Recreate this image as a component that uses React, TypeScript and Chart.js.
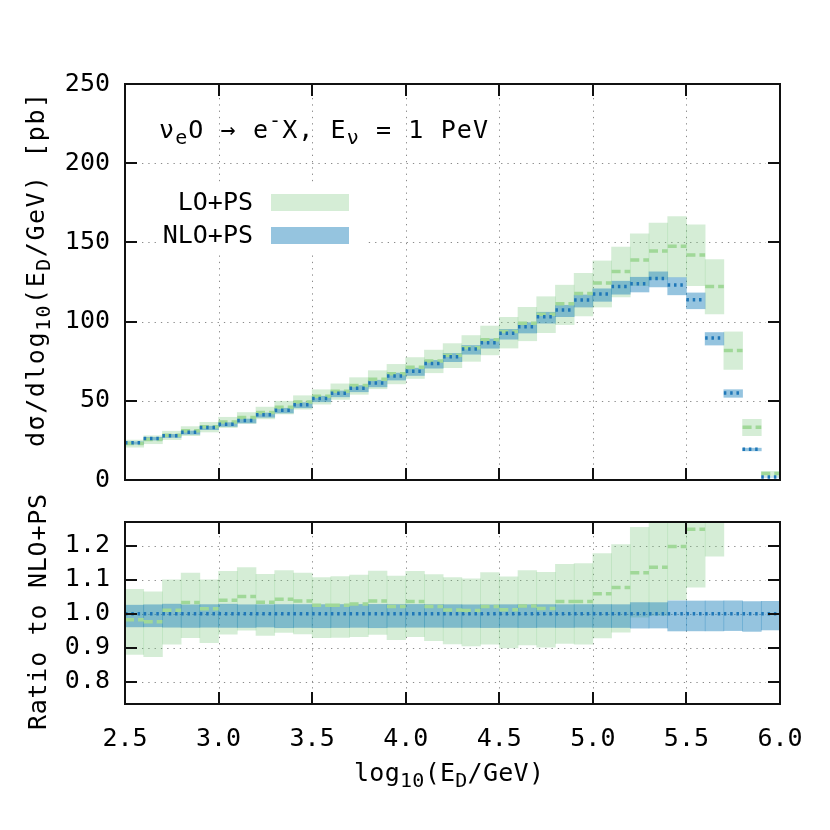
import React, { useEffect, useRef } from "react";
import { Chart, registerables } from "chart.js";

Chart.register(...registerables);

const FONT = '"DejaVu Sans Mono", monospace';
const FS = 25;

// bin edges in log10(E_D/GeV)
const binEdges = [2.5, 2.6, 2.7, 2.8, 2.9, 3.0, 3.1, 3.2, 3.3, 3.4, 3.5, 3.6, 3.7, 3.8, 3.9, 4.0, 4.1, 4.2, 4.3, 4.4, 4.5, 4.6, 4.7, 4.8, 4.9, 5.0, 5.1, 5.2, 5.3, 5.4, 5.5, 5.6, 5.7, 5.8, 5.9, 6.0];

// NLO+PS (pb)
const nloCentral = [23.5, 26.2, 28.0, 30.1, 33.1, 35.2, 37.5, 41.2, 44.1, 47.5, 51.5, 54.7, 58.0, 61.3, 65.7, 68.7, 73.5, 77.8, 82.7, 86.7, 92.6, 96.7, 103.1, 107.4, 113.7, 117.5, 122.2, 123.9, 127.2, 123.1, 113.8, 89.7, 54.9, 19.4, 1.9];
const nloUp = [24.1, 26.9, 28.8, 30.9, 34.0, 36.2, 38.5, 42.3, 45.3, 48.8, 52.9, 56.2, 59.6, 63.0, 67.5, 70.6, 75.5, 79.9, 84.9, 89.0, 95.1, 99.3, 105.9, 110.3, 116.8, 120.7, 125.5, 128.0, 131.4, 127.8, 118.1, 93.1, 57.0, 20.1, 1.97];
const nloDown = [22.6, 25.2, 26.9, 28.9, 31.8, 33.8, 36.0, 39.6, 42.3, 45.6, 49.4, 52.5, 55.7, 58.8, 63.1, 66.0, 70.6, 74.7, 79.4, 83.2, 88.9, 92.8, 99.0, 103.1, 109.2, 112.8, 117.3, 118.7, 121.9, 116.9, 108.1, 85.2, 52.2, 18.4, 1.81];

// LO+PS (pb)
const loCentral = [23.1, 25.6, 28.3, 31.1, 33.6, 36.6, 39.4, 42.6, 46.0, 49.3, 52.8, 56.1, 59.7, 63.6, 67.1, 71.2, 75.1, 78.7, 83.5, 88.6, 93.7, 98.9, 104.7, 111.3, 117.8, 124.4, 131.7, 138.9, 144.6, 147.5, 142.1, 122.2, 81.7, 33.3, 4.1];
const loUp = [25.2, 27.9, 30.8, 33.7, 36.4, 39.6, 42.6, 46.0, 49.7, 53.2, 57.0, 60.7, 64.6, 69.0, 73.0, 77.3, 82.0, 86.1, 91.2, 97.2, 102.7, 109.0, 115.7, 123.0, 130.5, 138.3, 147.1, 155.4, 162.2, 166.3, 161.1, 139.1, 93.5, 38.3, 5.4];
const loDown = [20.7, 22.9, 25.5, 28.0, 30.3, 33.1, 35.7, 38.6, 41.7, 44.7, 47.9, 50.9, 54.1, 57.6, 60.7, 64.1, 67.7, 70.9, 74.9, 79.0, 83.3, 87.9, 93.0, 98.1, 103.6, 109.2, 115.6, 122.7, 126.6, 128.1, 122.7, 104.9, 69.8, 28.0, 2.6];

const xTickValues = [2.5, 3.0, 3.5, 4.0, 4.5, 5.0, 5.5, 6.0];
const xTickLabels = ["2.5", "3.0", "3.5", "4.0", "4.5", "5.0", "5.5", "6.0"];
const topTickValues = [0, 50, 100, 150, 200, 250];
const topTickLabels = ["0", "50", "100", "150", "200", "250"];
const ratioTickValues = [0.8, 0.9, 1.0, 1.1, 1.2];
const ratioTickLabels = ["0.8", "0.9", "1.0", "1.1", "1.2"];

const LO_FILL = "rgba(116,196,118,0.3)";
const NLO_FILL = "rgba(30,129,186,0.47)";
const LO_LINE = "rgb(160,216,152)";
const NLO_LINE = "rgb(31,119,184)";

type Seg = { t: string; s?: "sub" | "sup" };

function drawRich(
  ctx: CanvasRenderingContext2D,
  segs: Seg[],
  x: number,
  y: number,
  size: number,
  align: "left" | "center" | "right",
  target?: number
) {
  const glyphs: { ch: string; font: string; dy: number; w: number }[] = [];
  for (const sg of segs) {
    const font = `${sg.s ? size * 0.8 : size}px ${FONT}`;
    const dy = sg.s === "sub" ? size * 0.22 : sg.s === "sup" ? -size * 0.45 : 0;
    ctx.font = font;
    for (const ch of Array.from(sg.t)) {
      glyphs.push({ ch, font, dy, w: ctx.measureText(ch).width });
    }
  }
  const natural = glyphs.reduce((a, g) => a + g.w, 0);
  const extra = target && glyphs.length > 1 ? (target - natural) / (glyphs.length - 1) : 0;
  const total = natural + extra * (glyphs.length - 1);
  let cx = align === "left" ? x : align === "center" ? x - total / 2 : x - total;
  ctx.textAlign = "left";
  ctx.textBaseline = "alphabetic";
  for (const g of glyphs) {
    ctx.font = g.font;
    ctx.fillText(g.ch, cx, y + g.dy);
    cx += g.w + extra;
  }
}

function bandData(lo: number[], hi: number[], norm?: number[]) {
  return lo.map((v, i) => ({
    x: (binEdges[i] + binEdges[i + 1]) / 2,
    y: [norm ? v / norm[i] : v, norm ? hi[i] / norm[i] : hi[i]],
  }));
}

function stepData(vals: number[], norm?: number[]) {
  const out: { x: number; y: number | null }[] = [];
  vals.forEach((v, i) => {
    const y = norm ? v / norm[i] : v;
    out.push({ x: binEdges[i], y }, { x: binEdges[i + 1], y }, { x: binEdges[i + 1], y: null });
  });
  return out;
}

function datasets(norm?: number[]) {
  return [
    { type: "bar", data: bandData(loDown, loUp, norm), backgroundColor: LO_FILL, borderWidth: 0, grouped: false, barPercentage: 1, categoryPercentage: 1, order: 4 },
    { type: "bar", data: bandData(nloDown, nloUp, norm), backgroundColor: NLO_FILL, borderWidth: 0, grouped: false, barPercentage: 1, categoryPercentage: 1, order: 3 },
    { type: "line", data: stepData(loCentral, norm), borderColor: LO_LINE, borderWidth: 3.5, borderDash: [9, 4], borderCapStyle: "butt", pointRadius: 0, spanGaps: false, fill: false, tension: 0, order: 2 },
    { type: "line", data: stepData(nloCentral, norm), borderColor: NLO_LINE, borderWidth: 3.5, borderDash: [2.5, 3.8], borderCapStyle: "butt", pointRadius: 0, spanGaps: false, fill: false, tension: 0, order: 1 },
  ];
}

function framePlugin(id: string, yGrid: number[], yTicks: number[], extra: (chart: any) => void, legendBox?: boolean) {
  const TL = 12;
  return {
    id,
    beforeDatasetsDraw(chart: any) {
      const { ctx, chartArea: a } = chart;
      const xs = chart.scales.x;
      const ys = chart.scales.y;
      ctx.save();
      ctx.strokeStyle = "#8a8a8a";
      ctx.lineWidth = 1;
      ctx.setLineDash([1.3, 5]);
      ctx.beginPath();
      for (const v of xTickValues.slice(1, -1)) {
        const px = Math.round(xs.getPixelForValue(v)) + 0.5;
        ctx.moveTo(px, a.top + TL + 2);
        ctx.lineTo(px, a.bottom - TL - 2);
      }
      for (const v of yGrid) {
        const py = Math.round(ys.getPixelForValue(v)) + 0.5;
        ctx.moveTo(a.left + TL + 5, py);
        ctx.lineTo(a.right - TL - 2, py);
      }
      ctx.stroke();
      if (legendBox) {
        ctx.fillStyle = "#ffffff";
        ctx.fillRect(156, 186, 210, 66);
      }
      ctx.restore();
    },
    afterDatasetsDraw(chart: any) {
      const { ctx, chartArea: a } = chart;
      const xs = chart.scales.x;
      const ys = chart.scales.y;
      ctx.save();
      ctx.setLineDash([]);
      ctx.strokeStyle = "#111111";
      ctx.lineWidth = 2;
      ctx.strokeRect(a.left, a.top, a.right - a.left, a.bottom - a.top);
      ctx.beginPath();
      for (const v of xTickValues.slice(1, -1)) {
        const px = Math.round(xs.getPixelForValue(v));
        ctx.moveTo(px, a.bottom);
        ctx.lineTo(px, a.bottom - TL);
        ctx.moveTo(px, a.top);
        ctx.lineTo(px, a.top + TL);
      }
      for (const v of yTicks) {
        const py = Math.round(ys.getPixelForValue(v));
        ctx.moveTo(a.left, py);
        ctx.lineTo(a.left + TL, py);
        ctx.moveTo(a.right, py);
        ctx.lineTo(a.right - TL, py);
      }
      ctx.stroke();
      ctx.restore();
    },
    afterDraw(chart: any) {
      const { ctx } = chart;
      ctx.save();
      ctx.fillStyle = "#000000";
      extra(chart);
      ctx.restore();
    },
  };
}

export default function App() {
  const topRef = useRef<HTMLCanvasElement>(null);
  const botRef = useRef<HTMLCanvasElement>(null);

  useEffect(() => {
    Chart.defaults.font.family = FONT;

    const topChart = new Chart(topRef.current as HTMLCanvasElement, {
      type: "bar",
      data: { datasets: datasets() as any },
      options: {
        responsive: false,
        animation: false,
        devicePixelRatio: 1,
        events: [],
        layout: { padding: { left: 0, right: 50, top: 84, bottom: 21 } },
        plugins: { legend: { display: false }, tooltip: { enabled: false } },
        scales: {
          x: {
            type: "linear",
            min: 2.5,
            max: 6.0,
            offset: false,
            display: false,
            afterBuildTicks: (s: any) => {
              s.ticks = xTickValues.map((v) => ({ value: v }));
            },
          },
          y: {
            type: "linear",
            min: 0,
            max: 250,
            afterBuildTicks: (s: any) => {
              s.ticks = topTickValues.map((v) => ({ value: v }));
            },
            afterFit: (s: any) => {
              s.width = 125;
            },
            grid: { display: false, drawTicks: false },
            border: { display: false },
            ticks: {
              padding: 15,
              color: "#000",
              font: { family: FONT, size: FS },
              callback: (v: any) => topTickLabels[topTickValues.indexOf(Number(v))] ?? String(v),
            },
          },
        },
      } as any,
      plugins: [
        framePlugin("frameTop", [50, 100, 150, 200], [50, 100, 150, 200], (chart: any) => {
          const ctx = chart.ctx as CanvasRenderingContext2D;
          // y-axis title
          ctx.save();
          ctx.translate(44, 270);
          ctx.rotate(-Math.PI / 2);
          drawRich(ctx, [{ t: "dσ/dlog" }, { t: "10", s: "sub" }, { t: "(E" }, { t: "D", s: "sub" }, { t: "/GeV) [pb]" }], 0, 0, FS, "center", 354);
          ctx.restore();
          // process label
          drawRich(
            ctx,
            [{ t: "ν" }, { t: "e", s: "sub" }, { t: "O → e" }, { t: "-", s: "sup" }, { t: "X, E" }, { t: "ν", s: "sub" }, { t: " = 1 PeV" }],
            159,
            138,
            FS,
            "left",
            329
          );
          // legend
          ctx.font = `${FS}px ${FONT}`;
          ctx.textAlign = "right";
          ctx.textBaseline = "middle";
          ctx.fillText("LO+PS", 253, 203);
          ctx.fillText("NLO+PS", 253, 236);
          ctx.fillStyle = LO_FILL;
          ctx.fillRect(271, 194, 78, 17);
          ctx.fillStyle = NLO_FILL;
          ctx.fillRect(271, 227, 78, 17);
        }, true),
      ],
    });

    const botChart = new Chart(botRef.current as HTMLCanvasElement, {
      type: "bar",
      data: { datasets: datasets(nloCentral) as any },
      options: {
        responsive: false,
        animation: false,
        devicePixelRatio: 1,
        events: [],
        layout: { padding: { left: 0, right: 50, top: 42, bottom: 0 } },
        plugins: { legend: { display: false }, tooltip: { enabled: false } },
        scales: {
          x: {
            type: "linear",
            min: 2.5,
            max: 6.0,
            offset: false,
            afterBuildTicks: (s: any) => {
              s.ticks = xTickValues.map((v) => ({ value: v }));
            },
            afterFit: (s: any) => {
              s.height = 126;
            },
            grid: { display: false, drawTicks: false },
            border: { display: false },
            ticks: {
              padding: 20,
              color: "#000",
              autoSkip: false,
              maxRotation: 0,
              font: { family: FONT, size: FS },
              callback: (v: any) => xTickLabels[xTickValues.indexOf(Number(v))] ?? String(v),
            },
          },
          y: {
            type: "linear",
            min: 0.735,
            max: 1.27,
            afterBuildTicks: (s: any) => {
              s.ticks = ratioTickValues.map((v) => ({ value: v }));
            },
            afterFit: (s: any) => {
              s.width = 125;
            },
            grid: { display: false, drawTicks: false },
            border: { display: false },
            ticks: {
              padding: 15,
              color: "#000",
              font: { family: FONT, size: FS },
              callback: (v: any) => {
                const i = ratioTickValues.findIndex((t) => Math.abs(t - Number(v)) < 1e-6);
                return i >= 0 ? ratioTickLabels[i] : "";
              },
            },
          },
        },
      } as any,
      plugins: [
        framePlugin("frameBot", ratioTickValues, ratioTickValues, (chart: any) => {
          const ctx = chart.ctx as CanvasRenderingContext2D;
          ctx.save();
          ctx.translate(46, 132);
          ctx.rotate(-Math.PI / 2);
          drawRich(ctx, [{ t: "Ratio to NLO+PS" }], 0, 0, FS, "center", 236);
          ctx.restore();
          drawRich(ctx, [{ t: "log" }, { t: "10", s: "sub" }, { t: "(E" }, { t: "D", s: "sub" }, { t: "/GeV)" }], 449, 301, FS, "center", 190);
        }),
      ],
    });

    return () => {
      topChart.destroy();
      botChart.destroy();
    };
  }, []);

  return (
    <div style={{ position: "absolute", left: 0, top: 0, width: 830, height: 830, background: "#ffffff" }}>
      <canvas ref={topRef} width={830} height={510} style={{ position: "absolute", left: 0, top: 0, width: 830, height: 510 }} />
      <canvas ref={botRef} width={830} height={350} style={{ position: "absolute", left: 0, top: 480, width: 830, height: 350 }} />
    </div>
  );
}
